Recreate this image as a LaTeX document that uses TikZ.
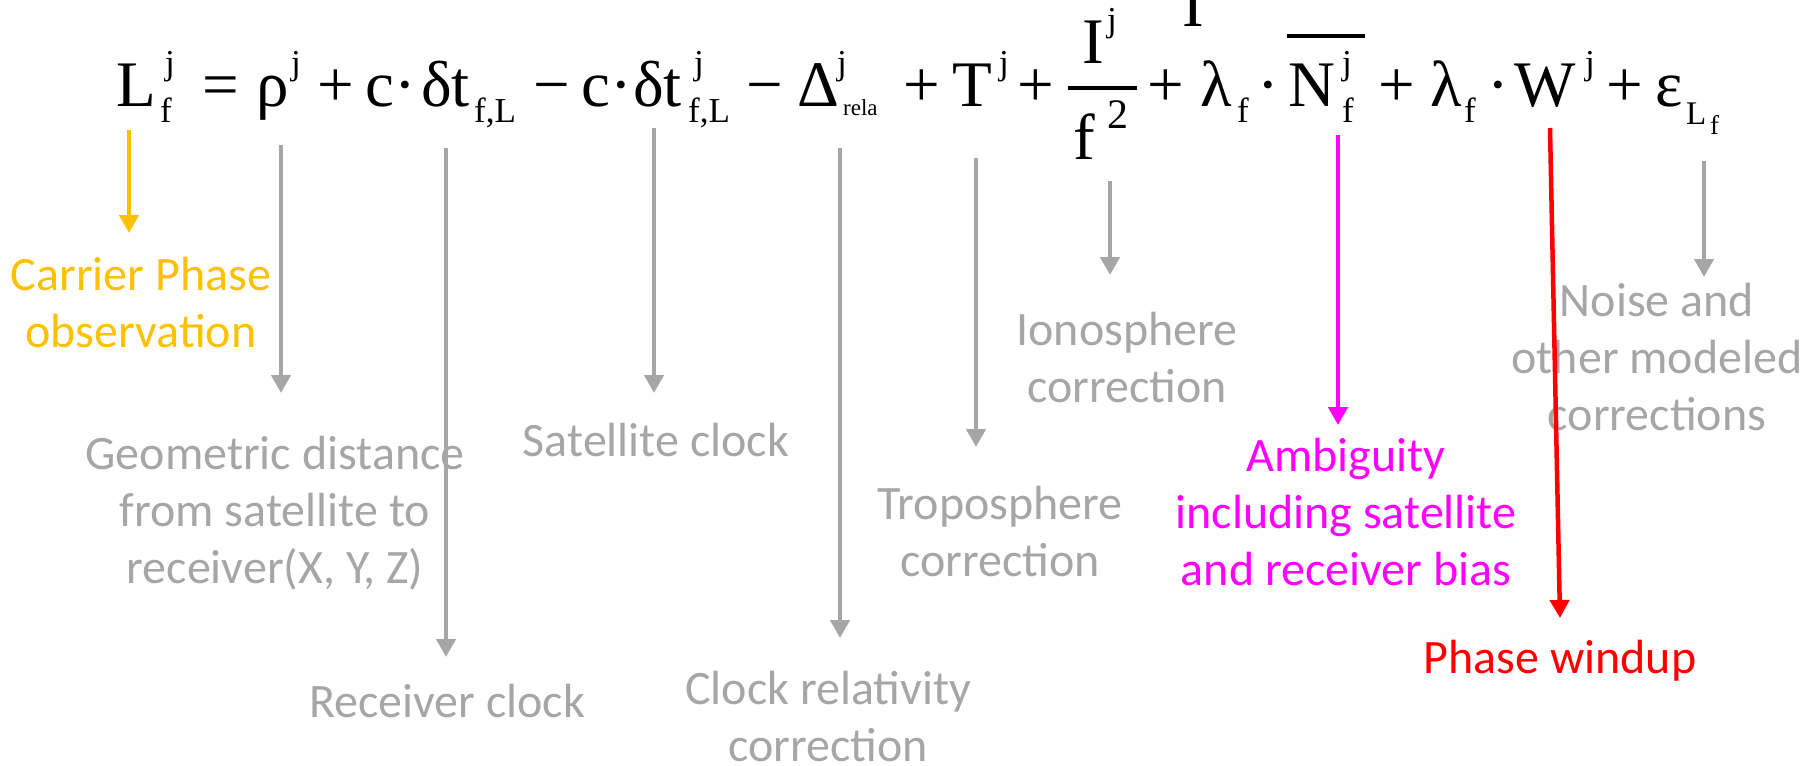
\documentclass[tikz,border=0pt]{standalone}
\usepackage{fontspec}
\newfontfamily\eqf{Liberation Serif}
\newfontfamily\labf{Carlito}
\usetikzlibrary{arrows.meta}
\definecolor{lgray}{HTML}{A6A6A6}
\definecolor{corange}{HTML}{FFC000}
\definecolor{cmag}{HTML}{FF00FF}
\definecolor{cred}{HTML}{FF0000}
\begin{document}
\begin{tikzpicture}[x=1pt,y=-1pt,
  big/.style={font=\eqf\fontsize{65}{65}\selectfont, inner sep=0pt, anchor=base west},
  sml/.style={font=\eqf\fontsize{35}{35}\selectfont, inner sep=0pt, anchor=base west},
  mid/.style={font=\eqf\fontsize{42}{42}\selectfont, inner sep=0pt, anchor=base west},
  tiny/.style={font=\eqf\fontsize{23}{23}\selectfont, inner sep=0pt, anchor=base west},
  ssub/.style={font=\eqf\fontsize{33}{33}\selectfont, inner sep=0pt, anchor=base west},
  sssub/.style={font=\eqf\fontsize{27}{27}\selectfont, inner sep=0pt, anchor=base west},
  bar/.style={line width=3.2pt},
  lab/.style={font=\labf\fontsize{48}{57}\selectfont, align=center, anchor=base, inner sep=0pt},
  arr/.style={line width=4.5pt, -{Triangle[width=19pt,length=18pt]}}]
\useasboundingbox (0,0) rectangle (1800,766);
% ---------------- equation ----------------
\node[big] (eL) at (116,106) {L};
\node[sml] (eLj) at (165,74) {j};
\node[sml] (eLf) at (160,122) {f};
\node[big] (eeq) at (202,106) {=};
\node[big] (erho) at (256,106) {ρ};
\node[sml] (erhoj) at (291,74) {j};
\node[big] (ep1) at (317,106) {+};
\node[big] (ec1) at (365,106) {c·};
\node[big] (edt1) at (421,106) {δt};
\node[sml] (edt1s) at (474,122) {f,L};
\node[big] (em1) at (533,106) {−};
\node[big] (ec2) at (581,106) {c·};
\node[big] (edt2) at (633,106) {δt};
\node[sml] (edt2j) at (694,74) {j};
\node[sml] (edt2s) at (688,122) {f,L};
\node[big] (em2) at (746,106) {−};
\node[big] (eD) at (797,106) {Δ};
\node[sml] (eDj) at (837,74) {j};
\node[tiny] (eDs) at (843,115) {rela};
\node[big] (ep2) at (903,106) {+};
\node[big] (eT) at (952,106) {T};
\node[sml] (eTj) at (999,74) {j};
\node[big] (ep3) at (1017,106) {+};
\node[big] (eI) at (1082,63) {I};
\node[sml] (eIj) at (1107,31) {j};
\draw[bar] (1068,88) -- (1137,88);
\node[big] (ef) at (1073,159) {f};
\node[mid] (ef2) at (1107,128) {2};
\node[big] (estray) at (1182,26) {I};
\node[big] (ep4) at (1147,106) {+};
\node[big] (el1) at (1200,106) {λ};
\node[sml] (el1f) at (1237,122) {f};
\node[big] (ed1) at (1257,106) {·};
\node[big] (eN) at (1288,106) {N};
\node[sml] (eNj) at (1342,74) {j};
\node[sml] (eNf) at (1342,122) {f};
\draw[bar] (1287,36) -- (1365,36);
\node[big] (ep5) at (1378,106) {+};
\node[big] (el2) at (1430,106) {λ};
\node[sml] (el2f) at (1464,122) {f};
\node[big] (ed2) at (1487,106) {·};
\node[big] (eW) at (1514,106) {W};
\node[sml] (eWj) at (1585,74) {j};
\node[big] (ep6) at (1606,106) {+};
\node[big] (eeps) at (1655,106) {ε};
\node[ssub] (eepsL) at (1686,124) {L};
\node[sssub] (eepsf) at (1710,134) {f};
% ---------------- labels (anchor = baseline of last line) ----------------
\node[lab, text=corange] (l1) at (141,347) {Carrier Phase\\observation};
\node[lab, text=lgray] (l2) at (275,583) {Geometric distance\\from satellite to\\receiver(X, Y, Z)};
\node[lab, text=lgray] (l3) at (447,717) {Receiver clock};
\node[lab, text=lgray] (l4) at (656,456) {Satellite clock};
\node[lab, text=lgray] (l5) at (828,761) {Clock relativity\\correction};
\node[lab, text=lgray] (l6) at (1000,576) {Troposphere\\correction};
\node[lab, text=lgray] (l7) at (1127,402) {Ionosphere\\correction};
\node[lab, text=cmag] (l8) at (1346,585) {Ambiguity\\including satellite\\and receiver bias};
\node[lab, text=cred] (l9) at (1560,673) {Phase windup};
\node[lab, text=lgray] (l10) at (1657,430) {Noise and\\other modeled\\corrections};
% ---------------- arrows ----------------
\coordinate (s1) at (129,130);  \coordinate (t1) at (129,233);
\coordinate (s2) at (281,145);  \coordinate (t2) at (281,393);
\coordinate (s3) at (446,148);  \coordinate (t3) at (446,657);
\coordinate (s4) at (654,128);  \coordinate (t4) at (654,393);
\coordinate (s5) at (840,148);  \coordinate (t5) at (840,638);
\coordinate (s6) at (976,158);  \coordinate (t6) at (976,447);
\coordinate (s7) at (1110,181); \coordinate (t7) at (1110,275);
\coordinate (s8) at (1338,135); \coordinate (t8) at (1338,425);
\coordinate (s9) at (1550,128); \coordinate (t9) at (1560,618);
\coordinate (s10) at (1704,161); \coordinate (t10) at (1704,277);
\draw[arr, corange] (s1) -- (t1);
\draw[arr, lgray] (s2) -- (t2);
\draw[arr, lgray] (s3) -- (t3);
\draw[arr, lgray] (s4) -- (t4);
\draw[arr, lgray] (s5) -- (t5);
\draw[arr, lgray] (s6) -- (t6);
\draw[arr, lgray] (s7) -- (t7);
\draw[arr, cmag] (s8) -- (t8);
\draw[arr, cred] (s9) -- (t9);
\draw[arr, lgray] (s10) -- (t10);
\end{tikzpicture}
\end{document}
